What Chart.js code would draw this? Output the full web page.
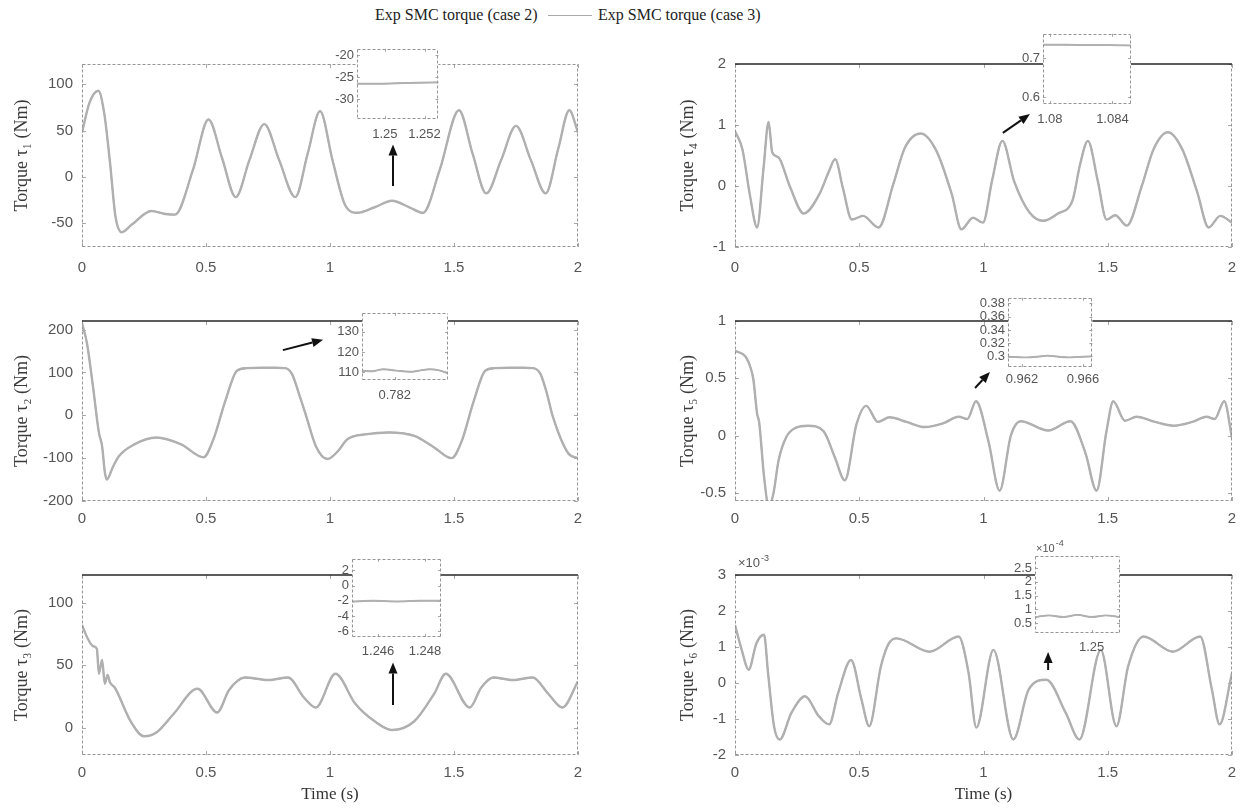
<!DOCTYPE html>
<html>
<head>
<meta charset="utf-8">
<title>Exp SMC torque</title>
<script src="https://cdn.jsdelivr.net/npm/chart.js@4.4.1/dist/chart.umd.min.js"></script>
<style>
  html, body { margin: 0; padding: 0; background: #fff; }
  body { position: relative; width: 1252px; height: 809px; overflow: hidden; }
  canvas { position: absolute; }
  #legend { position: absolute; top: 5px; left: 0; width: 1252px; height: 22px;
            font: 16px 'Liberation Serif', 'Times New Roman', serif; color: #222; }
  #legend span { position: absolute; top: 0; line-height: 20px; white-space: nowrap; }
  #legend i { position: absolute; top: 10px; height: 0; border-top: 1px solid #aaa; }
</style>
</head>
<body>
<div id="legend"></div>
<script>
const seriesNames = ['Exp SMC torque (case 2)', 'Exp SMC torque (case 3)'];
const seriesColors = ['#b0b0b0', '#7a7a7a'];
const seriesWidths = [2.4, 1.3];

const timeTicks = [0, 0.5, 1, 1.5, 2];

// joint 1
const t1 = [0, 0.03, 0.066, 0.09, 0.113, 0.135, 0.16, 0.2, 0.28, 0.33, 0.375, 0.448, 0.51, 0.565, 0.62, 0.675, 0.735, 0.795, 0.86, 0.91,
  0.96, 1.01, 1.06, 1.11, 1.18, 1.25, 1.32, 1.375, 1.443, 1.52, 1.575, 1.63, 1.69, 1.75, 1.81, 1.87, 1.92, 1.965, 2.0];
const tau1 = [48, 80, 93, 68, 15, -43, -60, -52, -37, -40, -41, 8, 62, 20, -22, 18, 57, 18, -22, 25,
  71, 18, -30, -39, -33, -26, -33, -39, 8, 72, 25, -18, 18, 55, 18, -18, 30, 72, 48];
const tau1Ticks = [-50, 0, 50, 100];
const zoom1T = [1.2486, 1.2496, 1.2506, 1.2516, 1.2527];
const zoom1 = [-26.5, -26.5, -26.4, -26.3, -26.2];
const zoom1XTicks = [1.25, 1.252];
const zoom1YTicks = [-30, -25, -20];

// joint 2
const t2 = [0, 0.02, 0.045, 0.068, 0.081, 0.092, 0.1, 0.125, 0.148, 0.211, 0.3, 0.4, 0.49, 0.53, 0.577, 0.625, 0.665, 0.72, 0.78, 0.82,
  0.847, 0.875, 0.903, 0.943, 0.99, 1.03, 1.07, 1.15, 1.237, 1.34, 1.42, 1.49, 1.53, 1.579, 1.626, 1.665, 1.72, 1.78, 1.82, 1.849,
  1.875, 1.897, 1.96, 2.0];
const tau2 = [215, 168, 64, -40, -72, -132, -150, -120, -96, -68, -52, -68, -98, -56, 32, 104, 110, 111, 111, 110,
  96, 50, 0, -72, -102, -85, -56, -44, -40, -48, -75, -100, -62, 32, 104, 110, 111, 111, 110, 96,
  50, 0, -88, -100];
const tau2Ticks = [-200, -100, 0, 100, 200];
const zoom2T = [0.7812, 0.78146, 0.78172, 0.78204, 0.78236, 0.78263, 0.78284, 0.78309, 0.7833];
const zoom2 = [110.8, 110.6, 111.6, 110.9, 110.3, 111.0, 111.6, 111.0, 109.6];
const zoom2XTicks = [0.782];
const zoom2YTicks = [110, 120, 130];

// joint 3
const t3 = [0, 0.021, 0.045, 0.06, 0.068, 0.081, 0.092, 0.103, 0.113, 0.132, 0.196, 0.25, 0.3, 0.37, 0.466, 0.545, 0.593, 0.657, 0.752, 0.831,
  0.895, 0.943, 1.022, 1.102, 1.18, 1.25, 1.34, 1.42, 1.467, 1.563, 1.61, 1.658, 1.738, 1.817, 1.88, 1.937, 2.0];
const tau3 = [82, 72, 65, 63, 43, 54, 35, 42, 36, 32, 5, -7, -4, 11, 31, 12, 30, 40, 38, 40,
  24, 16, 43, 19, 5, -2, 5, 27, 43, 16, 32, 40, 38, 40, 27, 16, 37];
const tau3Ticks = [0, 50, 100];
const zoom3T = [1.24489, 1.2458, 1.2468, 1.2478, 1.24868];
const zoom3 = [-2.1, -2.0, -2.1, -2.0, -2.0];
const zoom3XTicks = [1.246, 1.248];
const zoom3YTicks = [-6, -4, -2, 0, 2];

// joint 4
const t4 = [0, 0.03, 0.06, 0.089, 0.115, 0.135, 0.15, 0.175, 0.22, 0.277, 0.34, 0.379, 0.403, 0.434, 0.47, 0.515, 0.578, 0.637, 0.684, 0.747,
  0.81, 0.872, 0.911, 0.958, 0.998, 1.035, 1.076, 1.123, 1.186, 1.24, 1.3, 1.358, 1.389, 1.42, 1.46, 1.495, 1.53, 1.577, 1.637, 1.684,
  1.742, 1.8, 1.86, 1.906, 1.953, 2.0];
const tau4 = [0.9, 0.6, -0.15, -0.68, 0.3, 1.05, 0.55, 0.47, 0.0, -0.45, -0.13, 0.25, 0.44, -0.03, -0.55, -0.49, -0.68, 0.03, 0.63, 0.86,
  0.58, -0.13, -0.71, -0.52, -0.6, 0.1, 0.74, 0.08, -0.44, -0.57, -0.45, -0.24, 0.36, 0.74, 0.08, -0.55, -0.48, -0.65, 0.0, 0.6,
  0.88, 0.6, -0.1, -0.68, -0.49, -0.6];
const tau4Ticks = [-1, 0, 1, 2];
const zoom4T = [1.0796, 1.081, 1.0824, 1.0838, 1.0852];
const zoom4 = [0.735, 0.735, 0.734, 0.734, 0.733];
const zoom4XTicks = [1.08, 1.084];
const zoom4YTicks = [0.6, 0.7];

// joint 5
const t5 = [0, 0.042, 0.063, 0.074, 0.089, 0.097, 0.117, 0.136, 0.155, 0.175, 0.207, 0.246, 0.293, 0.356, 0.402, 0.442, 0.489, 0.528, 0.575, 0.622,
  0.69, 0.763, 0.84, 0.9, 0.935, 0.97, 1.02, 1.065, 1.11, 1.15, 1.26, 1.35, 1.41, 1.455, 1.495, 1.522, 1.569, 1.616, 1.69, 1.765,
  1.84, 1.898, 1.93, 1.969, 2.0];
const tau5 = [0.74, 0.69, 0.59, 0.49, 0.19, 0.12, -0.36, -0.62, -0.5, -0.22, -0.01, 0.07, 0.087, 0.04, -0.19, -0.39, 0.1, 0.26, 0.12, 0.16,
  0.12, 0.075, 0.11, 0.165, 0.145, 0.30, -0.05, -0.48, 0.0, 0.125, 0.045, 0.125, -0.15, -0.48, 0.04, 0.30, 0.13, 0.165, 0.12, 0.087,
  0.12, 0.165, 0.145, 0.30, -0.02];
const tau5Ticks = [-0.5, 0, 0.5, 1];
const zoom5T = [0.96108, 0.96163, 0.9623, 0.96302, 0.96368, 0.9644, 0.96507, 0.96579, 0.96662];
const zoom5 = [0.2995, 0.299, 0.2985, 0.2995, 0.3012, 0.2995, 0.2985, 0.2993, 0.3001];
const zoom5XTicks = [0.962, 0.966];
const zoom5YTicks = [0.3, 0.32, 0.34, 0.36, 0.38];

// joint 6, main values in 1e-3 Nm, zoom values in 1e-4 Nm
const t6 = [0, 0.027, 0.055, 0.086, 0.117, 0.133, 0.157, 0.18, 0.227, 0.282, 0.337, 0.379, 0.415, 0.467, 0.509, 0.54, 0.587, 0.619, 0.65, 0.783,
  0.9, 0.94, 0.971, 1.04, 1.12, 1.182, 1.253, 1.331, 1.386, 1.472, 1.535, 1.582, 1.644, 1.762, 1.872, 1.919, 1.95, 2.0];
const tau6 = [1.61, 0.92, 0.37, 1.1, 1.34, 0.28, -1.2, -1.57, -0.83, -0.37, -0.92, -1.15, -0.28, 0.64, -0.46, -1.2, 0.46, 1.1, 1.24, 0.87,
  1.29, 0.28, -1.24, 0.92, -1.57, -0.18, 0.09, -0.83, -1.57, 0.92, -1.2, 0.46, 1.29, 0.87, 1.29, -0.18, -1.15, 0.28];
const tau6Ticks = [-2, -1, 0, 1, 2, 3];
const zoom6T = [1.2488, 1.2491, 1.2494, 1.2497, 1.25, 1.2503, 1.2506];
const zoom6 = [0.72, 0.78, 0.72, 0.8, 0.72, 0.78, 0.72];
const zoom6XTicks = [1.25];
const zoom6YTicks = [0.5, 1, 1.5, 2, 2.5];

const subDigits = ['₀', '₁', '₂', '₃', '₄', '₅', '₆'];
const sansFont = "'Liberation Sans', Arial, sans-serif";
const serifFont = "'Liberation Serif', 'Times New Roman', serif";

// left column / right column geometry
const columns = [
  { left: 0, w: 600, axisW: 82, padR: 22, titlePad: 11 },
  { left: 640, w: 612, axisW: 95, padR: 20, titlePad: 37 }
];

const panels = [
  { joint: 1, t: t1, v: tau1, yMin: -76, yMax: 122, yTicks: tau1Ticks, col: 0, top: 40, h: 250, padT: 24, axisH: 43, tickPad: 12,
    darkTop: false, arrows: [[1.254, -10, 1.254, 35]] },
  { joint: 4, t: t4, v: tau4, yMin: -1, yMax: 2, yTicks: tau4Ticks, col: 1, top: 40, h: 250, padT: 24, axisH: 43, tickPad: 12,
    darkTop: true, arrows: [[1.078, 0.87, 1.187, 1.18]] },
  { joint: 2, t: t2, v: tau2, yMin: -200, yMax: 220, yTicks: tau2Ticks, col: 0, top: 300, h: 230, padT: 21, axisH: 29, tickPad: 9,
    darkTop: true, arrows: [[0.81, 152, 0.972, 176]] },
  { joint: 5, t: t5, v: tau5, yMin: -0.57, yMax: 1, yTicks: tau5Ticks, col: 1, top: 300, h: 230, padT: 21, axisH: 29, tickPad: 9,
    darkTop: true, arrows: [[0.966, 0.416, 1.026, 0.556]] },
  { joint: 3, t: t3, v: tau3, yMin: -22, yMax: 122, yTicks: tau3Ticks, col: 0, top: 550, h: 259, padT: 25, axisH: 54, tickPad: 9,
    darkTop: true, xTitle: 'Time (s)', arrows: [[1.254, 18, 1.254, 52]] },
  { joint: 6, t: t6, v: tau6, yMin: -2, yMax: 3, yTicks: tau6Ticks, col: 1, top: 550, h: 259, padT: 25, axisH: 54, tickPad: 9,
    darkTop: true, xTitle: 'Time (s)', exponent: '-3', arrows: [[1.26, 0.36, 1.26, 0.86]] }
];

const zooms = [
  { t: zoom1T, v: zoom1, xMin: 1.2486, xMax: 1.2527, xTicks: zoom1XTicks, yMin: -34.6, yMax: -18.5, yTicks: zoom1YTicks,
    left: 310, top: 38, w: 140, h: 110, axisW: 47, padR: 7, padT: 7, axisH: 29, tickPad: 8 },
  { t: zoom4T, v: zoom4, xMin: 1.07956, xMax: 1.08519, xTicks: zoom4XTicks, yMin: 0.583, yMax: 0.763, yTicks: zoom4YTicks,
    left: 1000, top: 23, w: 140, h: 110, axisW: 43, padR: 9, padT: 7, axisH: 29, tickPad: 8 },
  { t: zoom2T, v: zoom2, xMin: 0.7812, xMax: 0.7833, xTicks: zoom2XTicks, yMin: 106.3, yMax: 139.2, yTicks: zoom2YTicks,
    left: 320, top: 302, w: 135, h: 105, axisW: 42, padR: 7, padT: 7, axisH: 27, tickPad: 8 },
  { t: zoom5T, v: zoom5, xMin: 0.96108, xMax: 0.96662, xTicks: zoom5XTicks, yMin: 0.284, yMax: 0.3886, yTicks: zoom5YTicks,
    left: 960, top: 287, w: 145, h: 105, axisW: 48, padR: 7, padT: 7, axisH: 25, tickPad: 5 },
  { t: zoom3T, v: zoom3, xMin: 1.24489, xMax: 1.24868, xTicks: zoom3XTicks, yMin: -6.75, yMax: 3.5, yTicks: zoom3YTicks,
    left: 315, top: 548, w: 135, h: 120, axisW: 37, padR: 9, padT: 7, axisH: 31, tickPad: 7 },
  { t: zoom6T, v: zoom6, xMin: 1.2488, xMax: 1.2506, xTicks: zoom6XTicks, yMin: 0.14, yMax: 2.94, yTicks: zoom6YTicks,
    left: 990, top: 538, w: 140, h: 125, axisW: 45, padR: 10, padT: 18, axisH: 30, tickPad: 7, exponent: '-4' }
];

function fmt(v) {
  return String(+Number(v).toFixed(6));
}

// box, inward tick marks, exponent and arrows, drawn per chart
function framePlugin(o) {
  return {
    id: 'frame',
    beforeDraw(chart) {
      if (!o.fill) return;
      const { ctx, chartArea: a } = chart;
      ctx.save();
      ctx.fillStyle = '#fff';
      ctx.fillRect(a.left, a.top, a.width, a.height);
      ctx.restore();
    },
    afterDraw(chart) {
      const { ctx, chartArea: a, scales } = chart;
      const sx = scales.x, sy = scales.y;
      const seg = (x0, y0, x1, y1) => { ctx.beginPath(); ctx.moveTo(x0, y0); ctx.lineTo(x1, y1); ctx.stroke(); };
      ctx.save();
      ctx.lineWidth = 1;
      ctx.strokeStyle = '#a8a8a8';
      const tl = o.tickLen;
      sx.ticks.forEach((t) => {
        const p = Math.round(sx.getPixelForValue(t.value)) + 0.5;
        seg(p, a.bottom, p, a.bottom - tl);
        seg(p, a.top, p, a.top + tl);
      });
      sy.ticks.forEach((t) => {
        const p = Math.round(sy.getPixelForValue(t.value)) + 0.5;
        seg(a.left, p, a.left + tl, p);
        seg(a.right, p, a.right - tl, p);
      });

      const L = Math.round(a.left) + 0.5, R = Math.round(a.right) - 0.5;
      const T = Math.round(a.top) + 0.5, B = Math.round(a.bottom) - 0.5;
      ctx.setLineDash([3, 2]);
      ctx.strokeStyle = '#949494';
      seg(L, T, L, B);
      seg(L, B, R, B);
      seg(R, B, R, T);
      if (!o.darkTop) seg(L, T, R, T);
      ctx.setLineDash([]);
      if (o.darkTop) {
        ctx.strokeStyle = '#262626';
        ctx.lineWidth = 1.6;
        seg(a.left, a.top, a.right, a.top);
      }

      if (o.exponent) {
        const big = o.fill ? 11 : 13;
        const bx = a.left + (o.fill ? 1 : 3), by = a.top - (o.fill ? 4 : 8);
        ctx.fillStyle = '#555';
        ctx.textBaseline = 'alphabetic';
        ctx.font = `${big}px ${sansFont}`;
        ctx.fillText('×10', bx, by);
        const w = ctx.measureText('×10').width;
        ctx.font = `9px ${sansFont}`;
        ctx.fillText(o.exponent, bx + w + 1, by - 6);
      }

      (o.arrows || []).forEach(([x0, y0, x1, y1]) => {
        const ax = sx.getPixelForValue(x0), ay = sy.getPixelForValue(y0);
        const bx = sx.getPixelForValue(x1), by = sy.getPixelForValue(y1);
        const ang = Math.atan2(by - ay, bx - ax);
        const c = Math.cos(ang), s = Math.sin(ang);
        const head = 11, half = 4.5;
        ctx.strokeStyle = '#111';
        ctx.fillStyle = '#111';
        ctx.lineWidth = 2;
        seg(ax, ay, bx - head * c, by - head * s);
        ctx.beginPath();
        ctx.moveTo(bx, by);
        ctx.lineTo(bx - head * c + half * s, by - head * s - half * c);
        ctx.lineTo(bx - head * c - half * s, by - head * s + half * c);
        ctx.closePath();
        ctx.fill();
      });
      ctx.restore();
    }
  };
}

function makeChart(box, cfg) {
  const cv = document.createElement('canvas');
  cv.width = box.w;
  cv.height = box.h;
  cv.style.left = box.left + 'px';
  cv.style.top = box.top + 'px';
  cv.style.zIndex = cfg.inset ? 2 : 1;
  document.body.appendChild(cv);

  const datasets = seriesNames.map((name, k) => ({
    label: name,
    data: cfg.t.map((t, i) => ({ x: t, y: cfg.v[i] })),
    borderColor: seriesColors[k],
    borderWidth: cfg.inset ? seriesWidths[k] * 0.8 : seriesWidths[k],
    pointRadius: 0,
    fill: false,
    cubicInterpolationMode: 'monotone'
  }));

  const tickSize = cfg.inset ? 13 : 15;
  new Chart(cv, {
    type: 'line',
    data: { datasets },
    options: {
      responsive: false,
      animation: false,
      devicePixelRatio: 1,
      events: [],
      layout: { padding: { left: 0, right: box.padR, top: box.padT, bottom: 0 } },
      plugins: { legend: { display: false }, tooltip: { enabled: false } },
      scales: {
        x: {
          type: 'linear',
          bounds: 'data',
          min: cfg.xMin,
          max: cfg.xMax,
          grid: { display: false, drawTicks: false },
          border: { display: false },
          afterBuildTicks: (s) => { s.ticks = cfg.xTicks.map((v) => ({ value: v })); },
          afterFit: (s) => { s.height = box.axisH; },
          ticks: {
            autoSkip: false, maxRotation: 0, padding: box.tickPad,
            color: '#555', font: { family: sansFont, size: tickSize },
            callback: (v) => fmt(v)
          },
          title: {
            display: !!cfg.xTitle, text: cfg.xTitle || '', color: '#333',
            font: { family: serifFont, size: 17 }, padding: { top: 0, bottom: 4 }
          }
        },
        y: {
          type: 'linear',
          bounds: 'data',
          min: cfg.yMin,
          max: cfg.yMax,
          grid: { display: false, drawTicks: false },
          border: { display: false },
          afterBuildTicks: (s) => { s.ticks = cfg.yTicks.map((v) => ({ value: v })); },
          afterFit: (s) => { s.width = box.axisW; },
          ticks: {
            autoSkip: false, padding: cfg.inset ? 3 : 9,
            color: '#555', font: { family: sansFont, size: tickSize },
            callback: (v) => fmt(v)
          },
          title: {
            display: !!cfg.yTitle, text: cfg.yTitle || '', color: '#3a3a3a',
            font: { family: serifFont, size: 18 }, padding: { top: box.titlePad || 0, bottom: 0 }
          }
        }
      }
    },
    plugins: [framePlugin({
      fill: !!cfg.inset, darkTop: !!cfg.darkTop, tickLen: cfg.inset ? 3 : 4,
      exponent: cfg.exponent, arrows: cfg.arrows
    })]
  });
}

panels.forEach((p) => {
  const c = columns[p.col];
  makeChart(
    { left: c.left, top: p.top, w: c.w, h: p.h, padR: c.padR, padT: p.padT, axisW: c.axisW, axisH: p.axisH,
      tickPad: p.tickPad, titlePad: c.titlePad },
    { t: p.t, v: p.v, xMin: 0, xMax: 2, xTicks: timeTicks, yMin: p.yMin, yMax: p.yMax, yTicks: p.yTicks,
      yTitle: `Torque τ${subDigits[p.joint]} (Nm)`, xTitle: p.xTitle, darkTop: p.darkTop,
      exponent: p.exponent, arrows: p.arrows }
  );
});

zooms.forEach((z) => {
  makeChart(
    { left: z.left, top: z.top, w: z.w, h: z.h, padR: z.padR, padT: z.padT, axisW: z.axisW, axisH: z.axisH, tickPad: z.tickPad },
    { inset: true, t: z.t, v: z.v, xMin: z.xMin, xMax: z.xMax, xTicks: z.xTicks, yMin: z.yMin, yMax: z.yMax, yTicks: z.yTicks,
      exponent: z.exponent }
  );
});

// shared legend across the top
const legend = document.getElementById('legend');
const name2 = document.createElement('span');
name2.style.left = '375px';
name2.textContent = seriesNames[0];
const sample3 = document.createElement('i');
sample3.style.left = '548px';
sample3.style.width = '44px';
const name3 = document.createElement('span');
name3.style.left = '598px';
name3.textContent = seriesNames[1];
legend.append(name2, sample3, name3);
</script>
</body>
</html>
